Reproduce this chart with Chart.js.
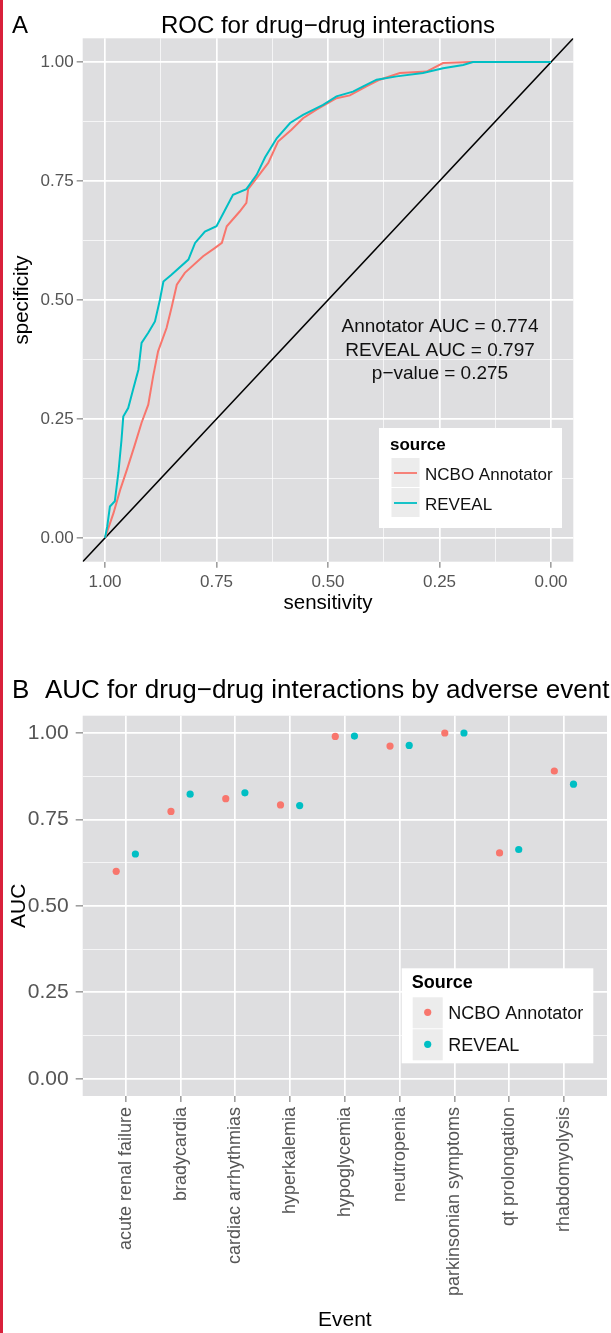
<!DOCTYPE html>
<html>
<head>
<meta charset="utf-8">
<script src="https://cdn.jsdelivr.net/npm/chart.js@4.4.0/dist/chart.umd.min.js"></script>
<style>
  html, body { margin: 0; padding: 0; background: #fff; }
  body { width: 611px; height: 1333px; position: relative; overflow: hidden; }
  #edge { position: absolute; left: 0; top: 0; width: 3px; height: 1333px; background: #d9203b; }
  canvas { position: absolute; left: 0; }
  #rocChart { top: 0; }
  #aucChart { top: 640px; }
</style>
</head>
<body>
<div id="edge"></div>
<canvas id="rocChart" width="611" height="640"></canvas>
<canvas id="aucChart" width="611" height="693"></canvas>
<script>
// ---- panel A : ROC curves (sensitivity, specificity)
var annotatorSens = [1.000, 0.981, 0.966, 0.951, 0.933, 0.918, 0.903, 0.892, 0.881, 0.862, 0.851, 0.839, 0.821, 0.780, 0.754, 0.738, 0.727, 0.698, 0.683, 0.679, 0.660, 0.634, 0.612, 0.582, 0.556, 0.526, 0.481, 0.451, 0.414, 0.384, 0.339, 0.279, 0.242, 0.182, 0.000];
var annotatorSpec = [0.000, 0.052, 0.101, 0.143, 0.196, 0.242, 0.280, 0.340, 0.392, 0.441, 0.483, 0.532, 0.557, 0.592, 0.609, 0.620, 0.655, 0.686, 0.704, 0.733, 0.756, 0.788, 0.833, 0.858, 0.882, 0.900, 0.924, 0.930, 0.949, 0.963, 0.977, 0.980, 0.998, 1.000, 1.000];
var revealSens = [1.000, 0.995, 0.989, 0.978, 0.970, 0.963, 0.959, 0.948, 0.937, 0.925, 0.918, 0.903, 0.888, 0.877, 0.869, 0.851, 0.813, 0.798, 0.776, 0.750, 0.713, 0.683, 0.660, 0.641, 0.615, 0.585, 0.556, 0.511, 0.481, 0.444, 0.421, 0.391, 0.346, 0.287, 0.242, 0.197, 0.175, 0.000];
var revealSpec = [0.000, 0.024, 0.066, 0.077, 0.137, 0.206, 0.255, 0.273, 0.312, 0.354, 0.410, 0.431, 0.455, 0.500, 0.539, 0.553, 0.585, 0.620, 0.644, 0.655, 0.721, 0.733, 0.763, 0.800, 0.840, 0.872, 0.889, 0.910, 0.928, 0.938, 0.949, 0.963, 0.970, 0.977, 0.987, 0.994, 1.000, 1.000];
var rocTicks = [0, 0.25, 0.5, 0.75, 1];
var aucText = ['Annotator AUC = 0.774', 'REVEAL AUC = 0.797', 'p\u2212value = 0.275'];

// ---- panel B : AUC by adverse event
var events = ['acute renal failure', 'bradycardia', 'cardiac arrhythmias', 'hyperkalemia', 'hypoglycemia', 'neutropenia', 'parkinsonian symptoms', 'qt prolongation', 'rhabdomyolysis'];
var aucAnnotator = [0.600, 0.773, 0.810, 0.792, 0.990, 0.962, 1.000, 0.653, 0.890];
var aucReveal = [0.650, 0.823, 0.827, 0.790, 0.991, 0.964, 1.000, 0.663, 0.852];
var aucTicks = [0, 0.25, 0.5, 0.75, 1];

var RED = '#F8766D', CYAN = '#00BFC4';
var PANEL = '#dedee0';
var FONT = "'Liberation Sans', Arial, Helvetica, sans-serif";

// major + minor grid positions (minor = half way between majors)
function withMinor(t) {
    var out = [];
    for (var i = 0; i < t.length; i++) {
        out.push(t[i]);
        if (i < t.length - 1) out.push((t[i] + t[i + 1]) / 2);
    }
    return out;
}
function isMajor(list, v) {
    return list.some(function (t) { return Math.abs(t - v) < 1e-9; });
}
function txt(ctx, s, x, y, size, align, weight, color) {
    ctx.save();
    ctx.font = (weight || 'normal') + ' ' + size + 'px ' + FONT;
    ctx.fillStyle = color || '#000';
    ctx.textAlign = align || 'left';
    ctx.textBaseline = 'alphabetic';
    ctx.fillText(s, x, y);
    ctx.restore();
}

var panelBg = {
    id: 'panelBg',
    beforeDraw: function (chart) {
        var a = chart.chartArea, ctx = chart.ctx;
        ctx.save();
        ctx.fillStyle = PANEL;
        ctx.fillRect(a.left, a.top, a.right - a.left, a.bottom - a.top);
        ctx.restore();
    }
};

// grid / tick helpers shared by both panels
function numAxis(ticks, opts) {
    var all = withMinor(ticks);
    return Object.assign({
        type: 'linear',
        min: -0.05,
        max: 1.05,
        afterBuildTicks: function (s) { s.ticks = all.map(function (v) { return {value: v}; }); },
        border: {display: false},
        grid: {
            color: '#ffffff',
            lineWidth: function (c) { return c.tick && isMajor(ticks, c.tick.value) ? 1.7 : 0.7; },
            tickColor: function (c) { return c.tick && isMajor(ticks, c.tick.value) ? '#7f7f7f' : 'rgba(0,0,0,0)'; },
            tickWidth: 1.2,
            tickLength: 6
        },
        ticks: {
            autoSkip: false,
            maxRotation: 0,
            color: '#555555',
            callback: function (v) { return isMajor(ticks, v) ? v.toFixed(2) : ''; }
        }
    }, opts);
}

// ---------------- panel A ----------------
var ctxA = document.getElementById('rocChart').getContext('2d');

var rocY = numAxis(rocTicks, {
    afterFit: function (s) { s.width = 82.7; },
    title: {display: true, text: 'specificity', color: '#000', font: {family: FONT, size: 20.5}, padding: {top: 10, bottom: 0}}
});
rocY.ticks.font = {family: FONT, size: 17};
rocY.ticks.padding = 3;

var rocX = numAxis(rocTicks, {
    reverse: true,
    afterFit: function (s) { s.height = 78.3; },
    title: {display: true, text: 'sensitivity', color: '#000', font: {family: FONT, size: 20.5}, padding: {top: 0, bottom: 24}}
});
rocX.ticks.font = {family: FONT, size: 17};
rocX.ticks.padding = 4;

var rocDecor = {
    id: 'rocDecor',
    afterDraw: function (chart) {
        var ctx = chart.ctx;
        txt(ctx, 'A', 12, 33, 24);
        txt(ctx, 'ROC for drug\u2212drug interactions', 328, 33, 24, 'center');
        txt(ctx, aucText[0], 440, 332, 19, 'center', 'normal', '#111');
        txt(ctx, aucText[1], 440, 356, 19, 'center', 'normal', '#111');
        txt(ctx, aucText[2], 440, 379, 19, 'center', 'normal', '#111');

        // legend box
        ctx.save();
        ctx.fillStyle = '#ffffff';
        ctx.fillRect(379, 428, 183, 100);
        txt(ctx, 'source', 390, 450, 17, 'left', 'bold');
        var ds = [chart.data.datasets[1], chart.data.datasets[0]];
        ds.forEach(function (d, i) {
            var top = 458 + i * 30;
            ctx.fillStyle = '#ececec';
            ctx.fillRect(391.5, top, 28, 29);
            ctx.strokeStyle = d.borderColor;
            ctx.lineWidth = 1.8;
            ctx.beginPath();
            ctx.moveTo(394, top + 15);
            ctx.lineTo(417, top + 15);
            ctx.stroke();
            txt(ctx, d.label, 425, top + 22, 17, 'left', 'normal', '#111');
        });
        ctx.restore();
    }
};

function pts(xs, ys) {
    return xs.map(function (x, i) { return {x: x, y: ys[i]}; });
}

new Chart(ctxA, {
    type: 'scatter',
    data: {
        datasets: [
            {label: 'REVEAL', data: pts(revealSens, revealSpec), showLine: true, borderColor: CYAN, borderWidth: 2, pointRadius: 0, order: 0},
            {label: 'NCBO Annotator', data: pts(annotatorSens, annotatorSpec), showLine: true, borderColor: RED, borderWidth: 2, pointRadius: 0, order: 1},
            {label: 'diag', data: [{x: 1.05, y: -0.05}, {x: -0.05, y: 1.05}], showLine: true, borderColor: '#000', borderWidth: 1.6, pointRadius: 0, order: 2}
        ]
    },
    options: {
        responsive: false,
        animation: false,
        events: [],
        layout: {padding: {top: 38.3, right: 37.7, left: 0, bottom: 0}},
        scales: {x: rocX, y: rocY},
        plugins: {legend: {display: false}, tooltip: {enabled: false}}
    },
    plugins: [panelBg, rocDecor]
});

// ---------------- panel B ----------------
var ctxB = document.getElementById('aucChart').getContext('2d');
var dodge = 0.175;

var aucY = numAxis(aucTicks, {
    afterFit: function (s) { s.width = 82.7; },
    title: {display: true, text: 'AUC', color: '#000', font: {family: FONT, size: 21}, padding: {top: 7, bottom: 0}}
});
aucY.ticks.font = {family: FONT, size: 21};
aucY.ticks.padding = 7;
aucY.grid.tickLength = 7;

var aucX = {
    type: 'linear',
    min: 1 - 0.787,
    max: events.length + 0.787,
    afterBuildTicks: function (s) { s.ticks = events.map(function (e, i) { return {value: i + 1}; }); },
    afterFit: function (s) { s.height = 237; },
    border: {display: false},
    grid: {color: '#ffffff', lineWidth: 1.7, tickColor: '#7f7f7f', tickWidth: 1.2, tickLength: 6},
    ticks: {
        autoSkip: false,
        minRotation: 90,
        maxRotation: 90,
        padding: 5,
        color: '#555555',
        font: {family: FONT, size: 18},
        callback: function (v) { return events[v - 1]; }
    },
    title: {display: true, text: 'Event', color: '#000', font: {family: FONT, size: 21}, padding: {top: 0, bottom: 0}}
};

var aucDecor = {
    id: 'aucDecor',
    afterDraw: function (chart) {
        var ctx = chart.ctx;
        txt(ctx, 'B', 12, 58, 26);
        txt(ctx, 'AUC for drug\u2212drug interactions by adverse event', 45, 58, 26);

        ctx.save();
        ctx.fillStyle = '#ffffff';
        ctx.fillRect(401.7, 328.3, 191.6, 95);
        txt(ctx, 'Source', 411.7, 348.3, 18, 'left', 'bold');
        chart.data.datasets.forEach(function (d, i) {
            var top = 357.3 + i * 32;
            ctx.fillStyle = '#ececec';
            ctx.fillRect(412.7, top, 30, 31);
            ctx.fillStyle = d.backgroundColor;
            ctx.beginPath();
            ctx.arc(427.7, top + 15, 3.6, 0, Math.PI * 2);
            ctx.fill();
            txt(ctx, d.label, 448.3, top + 22, 18, 'left', 'normal', '#111');
        });
        ctx.restore();
    }
};

new Chart(ctxB, {
    type: 'scatter',
    data: {
        datasets: [
            {label: 'NCBO Annotator', data: aucAnnotator.map(function (v, i) { return {x: i + 1 - dodge, y: v}; }), backgroundColor: RED, pointRadius: 3.6, pointBorderWidth: 0},
            {label: 'REVEAL', data: aucReveal.map(function (v, i) { return {x: i + 1 + dodge, y: v}; }), backgroundColor: CYAN, pointRadius: 3.6, pointBorderWidth: 0}
        ]
    },
    options: {
        responsive: false,
        animation: false,
        events: [],
        layout: {padding: {top: 75.7, right: 1, left: 0, bottom: 0}},
        scales: {x: aucX, y: aucY},
        plugins: {legend: {display: false}, tooltip: {enabled: false}}
    },
    plugins: [panelBg, aucDecor]
});
</script>
</body>
</html>
